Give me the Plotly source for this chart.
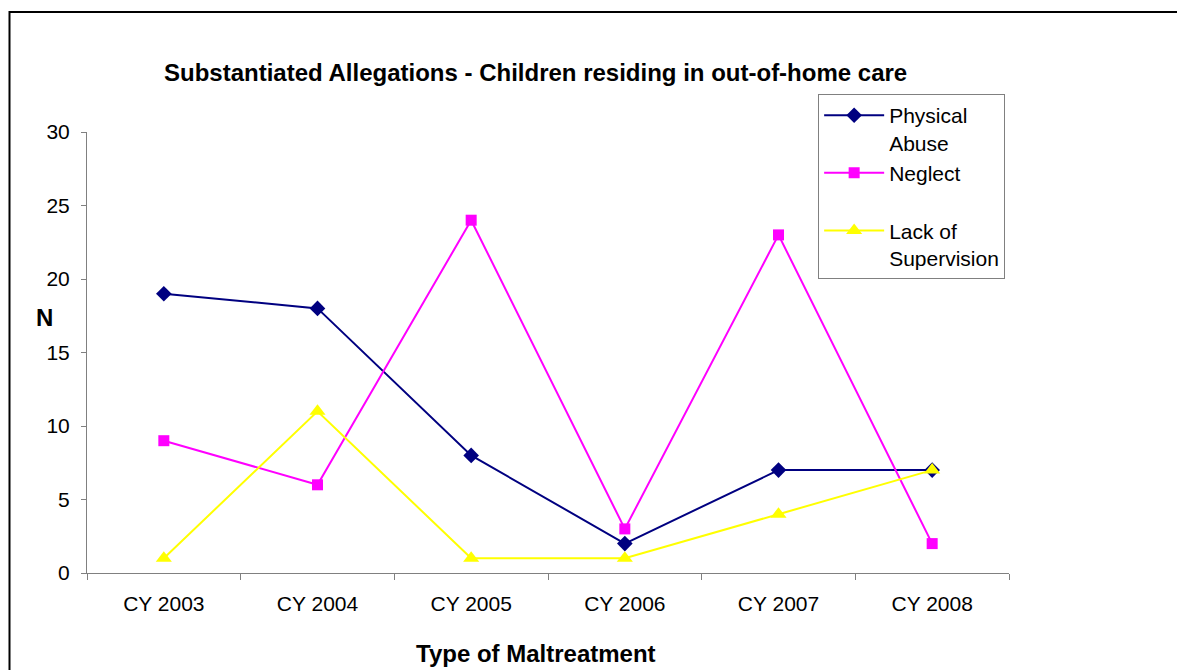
import plotly.graph_objects as go

categories = ["CY 2003", "CY 2004", "CY 2005", "CY 2006", "CY 2007", "CY 2008"]
physical_abuse = [19, 18, 8, 2, 7, 7]
neglect = [9, 6, 24, 3, 23, 2]
lack_of_supervision = [1, 11, 1, 1, 4, 7]
y_ticks = [0, 5, 10, 15, 20, 25, 30]

FONT = "Arial, Liberation Sans, sans-serif"
AXIS = "#808080"

fig = go.Figure()
fig.add_trace(go.Scatter(
    x=categories, y=physical_abuse, name="Physical<br>Abuse", mode="lines+markers",
    line=dict(color="#000080", width=2),
    marker=dict(symbol="diamond", size=12, color="#000080"),
))
fig.add_trace(go.Scatter(
    x=categories, y=neglect, name="Neglect<br> ", mode="lines+markers",
    line=dict(color="#FF00FF", width=2),
    marker=dict(symbol="square", size=11, color="#FF00FF"),
))
fig.add_trace(go.Scatter(
    x=categories, y=lack_of_supervision, name="Lack of<br>Supervision", mode="lines+markers",
    line=dict(color="#FFFF00", width=2),
    marker=dict(symbol="triangle-up", size=14, color="#FFFF00"),
))

fig.update_layout(
    width=1177, height=662,
    margin=dict(l=79, r=176, t=124, b=97, pad=0),
    paper_bgcolor="white", plot_bgcolor="white",
    font=dict(family=FONT, size=21, color="black"),
    showlegend=True,
    legend=dict(
        x=0.793, y=1.086, xanchor="left", yanchor="top",
        bgcolor="white", bordercolor=AXIS, borderwidth=1,
        font=dict(family=FONT, size=21, color="black"),
        valign="top", itemwidth=60, tracegroupgap=0,
    ),
    xaxis=dict(
        type="category", range=[-0.5, 5.5], showgrid=False, zeroline=False,
        showline=True, linecolor=AXIS, linewidth=1,
        ticks="outside", tickson="boundaries", ticklen=6, tickcolor=AXIS,
        tickfont=dict(family=FONT, size=21, color="black"), ticklabelstandoff=12,
    ),
    yaxis=dict(
        range=[0, 30], tickvals=y_ticks, showgrid=False, zeroline=False,
        showline=True, linecolor=AXIS, linewidth=1,
        ticks="outside", ticklen=5, tickcolor=AXIS,
        tickfont=dict(family=FONT, size=21, color="black"), ticklabelstandoff=7,
    ),
    shapes=[dict(
        type="rect", xref="paper", yref="paper",
        x0=(9.5 - 87) / 922, x1=(1200 - 87) / 922,
        y0=(573 - 700) / 441, y1=(573 - 12) / 441,
        line=dict(color="black", width=2), fillcolor="rgba(0,0,0,0)", layer="below",
    )],
    annotations=[
        dict(text="<b>Substantiated Allegations - Children residing in out-of-home care</b>",
             xref="paper", yref="paper", x=(535 - 87) / 922, y=(573 - 72) / 441,
             xanchor="center", yanchor="middle", showarrow=False,
             font=dict(family=FONT, size=24, color="black")),
        dict(text="<b>N</b>", xref="paper", yref="paper",
             x=(44 - 87) / 922, y=(573 - 317) / 441,
             xanchor="center", yanchor="middle", showarrow=False,
             font=dict(family=FONT, size=24, color="black")),
        dict(text="<b>Type of Maltreatment</b>", xref="paper", yref="paper",
             x=(536 - 87) / 922, y=(573 - 653) / 441,
             xanchor="center", yanchor="middle", showarrow=False,
             font=dict(family=FONT, size=24, color="black")),
    ],
)

fig.write_html("out.html")
